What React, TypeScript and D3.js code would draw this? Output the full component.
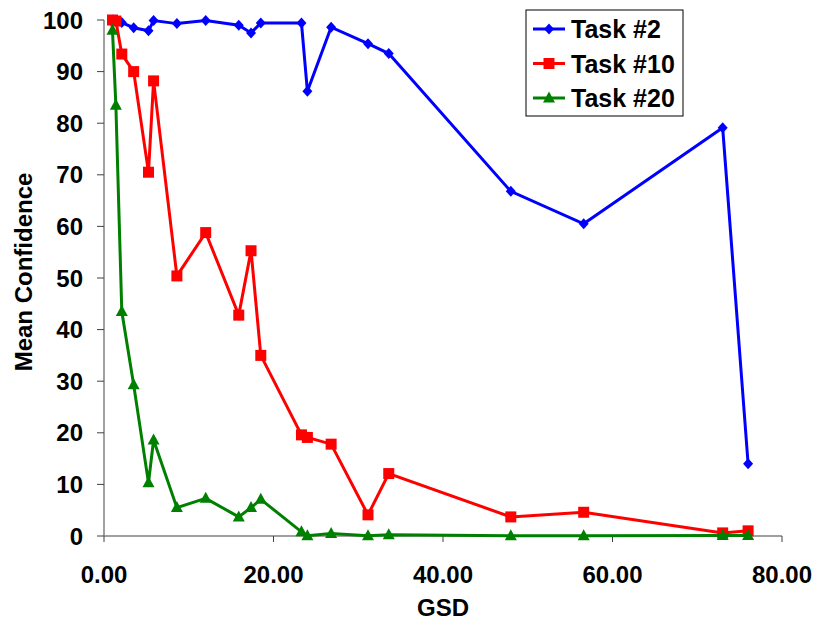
import React, { useEffect, useRef } from 'react';
import * as d3 from 'd3';

// GSD values shared by all three series
const gsd = [1.0, 1.4, 2.1, 3.5, 5.25, 5.85, 8.6, 12.0, 15.9, 17.35, 18.5, 23.3, 24.0, 26.8, 31.15, 33.6, 48.0, 56.6, 73.0, 76.0];

const task2 = [100, 99.8, 99.5, 98.5, 97.9, 99.9, 99.3, 99.9, 99.0, 97.5, 99.4, 99.4, 86.2, 98.6, 95.4, 93.5, 66.8, 60.5, 79.1, 14.0];
const task10 = [100, 99.8, 93.4, 90.0, 70.5, 88.2, 50.4, 58.8, 42.8, 55.3, 35.0, 19.6, 19.1, 17.8, 4.1, 12.1, 3.7, 4.6, 0.6, 1.0];
const task20 = [98.0, 83.5, 43.5, 29.3, 10.3, 18.6, 5.5, 7.3, 3.7, 5.5, 7.1, 0.8, 0.05, 0.5, 0.05, 0.25, 0.05, 0.05, 0.1, 0.1];

const xTicks = [0, 20, 40, 60, 80];
const yTicks = [0, 10, 20, 30, 40, 50, 60, 70, 80, 90, 100];

const series = [
  { name: 'Task #2', values: task2, color: '#0000ff', marker: 'diamond' },
  { name: 'Task #10', values: task10, color: '#ff0000', marker: 'square' },
  { name: 'Task #20', values: task20, color: '#008000', marker: 'triangle' },
];

const FONT = '"Liberation Sans", Arial, sans-serif';

// marker outline around a centre point
function markerPath(type: string, cx: number, cy: number) {
  const p = d3.path();
  if (type === 'diamond') {
    p.moveTo(cx, cy - 5.5);
    p.lineTo(cx + 5, cy);
    p.lineTo(cx, cy + 5.5);
    p.lineTo(cx - 5, cy);
  } else if (type === 'square') {
    p.rect(cx - 5.5, cy - 5.5, 11, 11);
  } else {
    p.moveTo(cx, cy - 6.5);
    p.lineTo(cx + 6, cy + 4.5);
    p.lineTo(cx - 6, cy + 4.5);
  }
  p.closePath();
  return p.toString();
}

export default function App() {
  const ref = useRef<SVGSVGElement>(null);

  useEffect(() => {
    const svg = d3.select(ref.current);
    svg.selectAll('*').remove();

    const x = d3.scaleLinear().domain([0, 80]).range([104, 782]);
    const y = d3.scaleLinear().domain([0, 100]).range([536, 20]);

    // y axis
    svg
      .append('line')
      .attr('x1', x(0))
      .attr('x2', x(0))
      .attr('y1', y(0))
      .attr('y2', y(100))
      .attr('stroke', '#808080')
      .attr('stroke-width', 1.5);
    yTicks.forEach((t) => {
      svg
        .append('line')
        .attr('x1', x(0) - 7)
        .attr('x2', x(0))
        .attr('y1', y(t))
        .attr('y2', y(t))
        .attr('stroke', '#404040');
      svg
        .append('text')
        .attr('x', 83)
        .attr('y', y(t) + 8.5)
        .attr('text-anchor', 'end')
        .style('font-family', FONT)
        .style('font-weight', 'bold')
        .style('font-size', '24px')
        .text(t);
    });

    // x axis
    svg
      .append('line')
      .attr('x1', x(0))
      .attr('x2', x(80))
      .attr('y1', y(0))
      .attr('y2', y(0))
      .attr('stroke', '#808080')
      .attr('stroke-width', 1.5);
    xTicks.forEach((t) => {
      svg
        .append('line')
        .attr('x1', x(t))
        .attr('x2', x(t))
        .attr('y1', y(0))
        .attr('y2', y(0) + 6)
        .attr('stroke', '#404040');
      svg
        .append('text')
        .attr('x', x(t))
        .attr('y', y(0) + 47)
        .attr('text-anchor', 'middle')
        .style('font-family', FONT)
        .style('font-weight', 'bold')
        .style('font-size', '24px')
        .text(t.toFixed(2));
    });

    // axis titles
    svg
      .append('text')
      .attr('x', (x(0) + x(80)) / 2)
      .attr('y', 616)
      .attr('text-anchor', 'middle')
      .style('font-family', FONT)
      .style('font-weight', 'bold')
      .style('font-size', '24px')
      .text('GSD');
    svg
      .append('text')
      .attr('transform', 'translate(32,272) rotate(-90)')
      .attr('text-anchor', 'middle')
      .style('font-family', FONT)
      .style('font-weight', 'bold')
      .style('font-size', '24px')
      .text('Mean Confidence');

    // series lines and markers
    const line = d3
      .line<number>()
      .x((d, i) => x(gsd[i]))
      .y((d) => y(d));

    series.forEach((s) => {
      svg
        .append('path')
        .attr('d', line(s.values))
        .attr('fill', 'none')
        .attr('stroke', s.color)
        .attr('stroke-width', 3);
      svg
        .append('g')
        .selectAll('path')
        .data(s.values)
        .enter()
        .append('path')
        .attr('d', (d, i) => markerPath(s.marker, x(gsd[i]), y(d)))
        .attr('fill', s.color);
    });

    // legend
    const legend = svg.append('g').attr('transform', 'translate(526,10)');
    legend
      .append('rect')
      .attr('x', 0)
      .attr('y', 0)
      .attr('width', 157)
      .attr('height', 106)
      .attr('fill', '#ffffff')
      .attr('stroke', '#000000')
      .attr('stroke-width', 1);
    series.forEach((s, i) => {
      const cy = 19 + i * 34.5;
      legend
        .append('line')
        .attr('x1', 7)
        .attr('x2', 39)
        .attr('y1', cy)
        .attr('y2', cy)
        .attr('stroke', s.color)
        .attr('stroke-width', 3);
      legend.append('path').attr('d', markerPath(s.marker, 23, cy)).attr('fill', s.color);
      legend
        .append('text')
        .attr('x', 45)
        .attr('y', cy + 9)
        .style('font-family', FONT)
        .style('font-weight', 'bold')
        .style('font-size', '25px')
        .text(s.name);
    });
  }, []);

  return (
    <div style={{ position: 'absolute', left: 0, top: 0 }}>
      <svg ref={ref} width={815} height={625} style={{ display: 'block', background: '#ffffff' }} />
    </div>
  );
}
